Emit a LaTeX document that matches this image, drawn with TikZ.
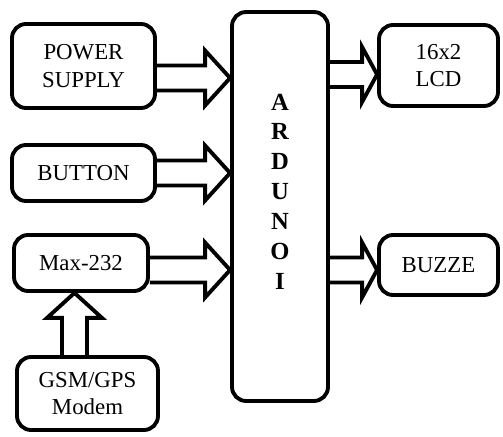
\documentclass[tikz,border=0pt]{standalone}
\usepackage{fontspec}
\setmainfont{Liberation Serif}
\usetikzlibrary{calc,positioning}

\tikzset{
  blk/.style={draw, line width=2.2pt, rounded corners=0.28cm, align=center,
    font=\fontsize{13}{15.5}\selectfont, inner sep=2pt},
  fat/.style={draw, line width=2.2pt, line join=miter}
}

% hollow block arrow: [head length]{start}{tip}
\newcommand{\fatarrow}[3][0.5cm]{%
  \coordinate (fa-s) at (#2);
  \coordinate (fa-t) at (#3);
  \coordinate (fa-b) at ($(fa-t)!#1!(fa-s)$);
  \draw[fat] ($(fa-s)!0.25cm!90:(fa-t)$) -- ($(fa-b)!0.25cm!90:(fa-t)$)
    -- ($(fa-b)!0.55cm!90:(fa-t)$) -- (fa-t) -- ($(fa-b)!0.55cm!-90:(fa-t)$)
    -- ($(fa-b)!0.25cm!-90:(fa-t)$) -- ($(fa-s)!0.25cm!-90:(fa-t)$);
}

\begin{document}
\begin{tikzpicture}[x=0.02cm, y=0.02cm]
    \useasboundingbox (0,0) rectangle (503,436);

    % inputs
    \node[blk, minimum width=2.86cm, minimum height=1.68cm] (ps) at (83.5,370) {POWER\\SUPPLY};
    \node[blk, minimum width=2.86cm, minimum height=1.12cm] (btn) at (83.5,263) {BUTTON};
    \node[blk, minimum width=2.68cm, minimum height=1.12cm] (max) at (81,173) {Max-232};
    \node[blk, minimum width=2.82cm, minimum height=1.46cm] (gsm) at (87.5,42.5) {GSM/GPS\\Modem};

    % controller
    \node[blk, minimum width=1.92cm, minimum height=7.78cm] (ard) at (280,229.5) {};
    \node[align=center, font=\fontsize{14}{17}\bfseries] (ardtxt) at ($(ard.center)+(0,15)$)
        {A\\R\\D\\U\\N\\O\\I};

    % outputs
    \node[blk, minimum width=2.38cm, minimum height=1.62cm] (lcd) at (438.5,370.5) {16x2\\LCD};
    \node[blk, minimum width=2.38cm, minimum height=1.2cm] (buz) at (438.5,171) {BUZZE};

    % arrows
    \coordinate (ps-out) at ($(ps.east)+(0,-12)$);
    \coordinate (btn-out) at (btn.east);
    \coordinate (max-out) at ($(max.east)+(0,-7)$);
    \coordinate (lcd-in) at ($(lcd.west)+(0,-9)$);
    \coordinate (buz-in) at ($(buz.west)+(0,-5)$);
    \coordinate (gsm-out) at ($(gsm.north)+(-13,0)$);

    \fatarrow{ps-out}{ps-out -| ard.west}
    \fatarrow{btn-out}{btn-out -| ard.west}
    \fatarrow{max-out}{max-out -| ard.west}
    \fatarrow[0.3cm]{lcd-in -| ard.east}{lcd-in}
    \fatarrow[0.3cm]{buz-in -| ard.east}{buz-in}
    \fatarrow{gsm-out}{gsm-out |- max.south}
\end{tikzpicture}
\end{document}
